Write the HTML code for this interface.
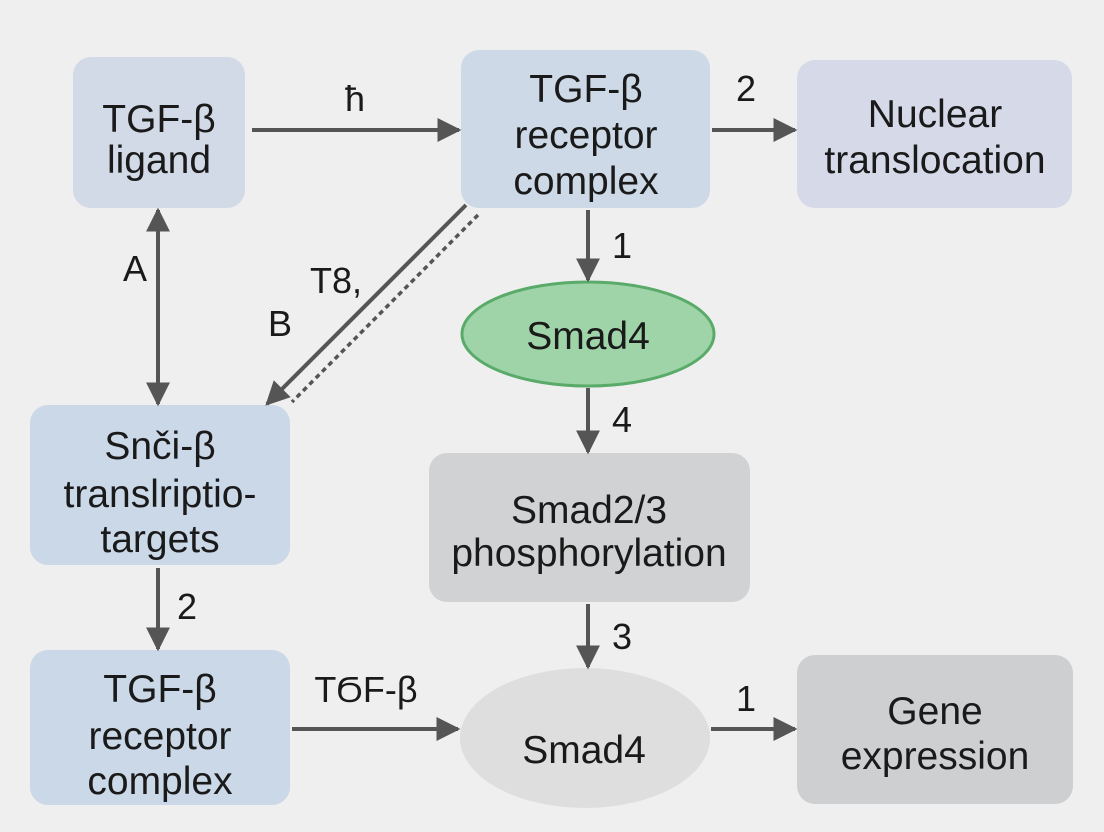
<!DOCTYPE html>
<html><head><meta charset="utf-8"><style>
html,body{margin:0;padding:0;background:#efefef}
svg{display:block}
text{font-family:"Liberation Sans","DejaVu Sans",sans-serif;fill:#1a1a1a;text-anchor:middle}
</style></head><body>
<svg width="1104" height="832" viewBox="0 0 1104 832" xmlns="http://www.w3.org/2000/svg">
<defs>
<marker id="A" viewBox="0 0 10 10" refX="9" refY="5" markerWidth="24" markerHeight="24" orient="auto-start-reverse" markerUnits="userSpaceOnUse"><path d="M0,0 L10,5 L0,10z" fill="#555"/></marker>
</defs>
<rect width="1104" height="832" fill="#efefef"/>
<rect x="73" y="57" width="172" height="151" rx="18" fill="#d2d9e7"/>
<rect x="461" y="50" width="249" height="158" rx="18" fill="#cdd9e7"/>
<rect x="797" y="60" width="275" height="148" rx="18" fill="#d6d9e8"/>
<rect x="30" y="405" width="260" height="160" rx="18" fill="#cad8e8"/>
<rect x="30" y="650" width="260" height="155" rx="18" fill="#cad8e8"/>
<rect x="429" y="453" width="321" height="149" rx="18" fill="#d0d2d3"/>
<rect x="797" y="655" width="276" height="149" rx="18" fill="#cdcfd0"/>
<ellipse cx="588" cy="334" rx="126" ry="52" fill="#9fd4a9" stroke="#5aab6a" stroke-width="3"/>
<ellipse cx="585" cy="738" rx="125" ry="70" fill="#dedede"/>
<g stroke="#555" stroke-width="4" fill="none">
<line x1="252" y1="130" x2="459" y2="130" marker-end="url(#A)"/>
<line x1="712" y1="130" x2="795" y2="130" marker-end="url(#A)"/>
<line x1="588" y1="210" x2="588" y2="280" marker-end="url(#A)"/>
<line x1="588" y1="388" x2="588" y2="452" marker-end="url(#A)"/>
<line x1="588" y1="604" x2="588" y2="667" marker-end="url(#A)"/>
<line x1="711" y1="729" x2="795" y2="729" marker-end="url(#A)"/>
<line x1="292" y1="729" x2="458" y2="729" marker-end="url(#A)"/>
<line x1="158" y1="210" x2="158" y2="404" marker-start="url(#A)" marker-end="url(#A)"/>
<line x1="158" y1="568" x2="158" y2="649" marker-end="url(#A)"/>
<line x1="466" y1="205" x2="267" y2="404" marker-end="url(#A)"/>
<line x1="478" y1="215" x2="292" y2="402" stroke-dasharray="5,4" stroke-width="3.5"/>
</g>
<g font-size="39">
<text x="159" y="132">TGF-β</text><text x="159" y="173">ligand</text>
<text x="586" y="102">TGF-β</text><text x="586" y="148">receptor</text><text x="586" y="194">complex</text>
<text x="935" y="127">Nuclear</text><text x="935" y="173">translocation</text>
<text x="160" y="459">Snči-β</text><text x="160" y="507">transƖriptio-</text><text x="160" y="552">targets</text>
<text x="160" y="702">TGF-β</text><text x="160" y="749">receptor</text><text x="160" y="794">complex</text>
<text x="589" y="523">Smad2/3</text><text x="589" y="566">phosphorylation</text>
<text x="935" y="724">Gene</text><text x="935" y="769">expression</text>
<text x="588" y="349">Smad4</text>
<text x="584" y="763">Smad4</text>
</g>
<g font-size="36">
<text x="366" y="702">TϬF-β</text>
<text x="336" y="293">T8,</text>
<text x="280" y="336">B</text>
<text x="135" y="281">A</text>
<text x="355" y="111">ħ</text>
<text x="746" y="101">2</text>
<text x="622" y="258">1</text>
<text x="622" y="432">4</text>
<text x="622" y="649">3</text>
<text x="746" y="711">1</text>
<text x="187" y="619">2</text>
</g>
</svg>
</body></html>
